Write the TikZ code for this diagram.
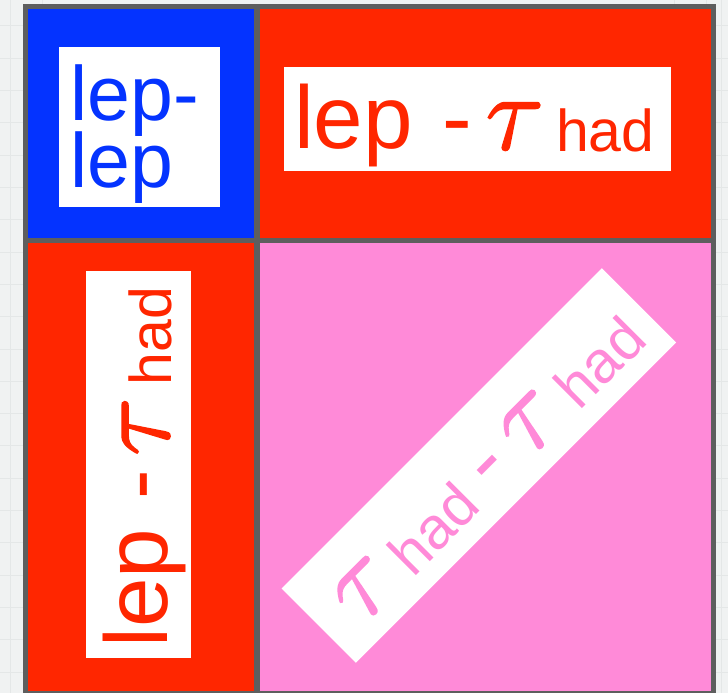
\RequirePackage{fix-cm}
\documentclass[tikz,border=0pt]{standalone}
\usepackage{fontspec}
\setmainfont{Liberation Sans}
\definecolor{bgc}{HTML}{F0F2F2}
\definecolor{gridc}{HTML}{E4E7E7}
\definecolor{framec}{HTML}{5E5E5E}
\definecolor{blueC}{HTML}{0433FF}
\definecolor{redC}{HTML}{FF2600}
\definecolor{pinkC}{HTML}{FF8AD8}
\tikzset{
  cell/.style={rectangle, draw=none, inner sep=0pt, outer sep=0pt},
  wbox/.style={rectangle, draw=none, fill=white, inner sep=0pt, outer sep=0pt, transform shape},
  txt/.style={inner sep=0pt, outer sep=0pt, anchor=base west, transform shape},
  big/.style={txt, font=\fontsize{89}{89}\selectfont},
  small/.style={txt, font=\fontsize{59}{59}\selectfont},
  tau/.style={txt, font=\fontsize{108}{108}\selectfont}
}
\newcommand{\mytau}{\special{pdf:literal direct 2 Tr 1.8 w}$\tau$\special{pdf:literal direct 0 Tr 0.4 w}}
\begin{document}
\begin{tikzpicture}[x=1pt,y=-1pt]
\useasboundingbox (0,0) rectangle (728,693);
\fill[bgc] (0,0) rectangle (728,693);
\foreach \gy in {26,58.3,90.6,122.9,155.2,187.5,219.8,252.1,284.4,316.7,349,381.3,413.6,445.9,478.2,510.5,542.8,575.1,607.4,639.7,672}
  \draw[gridc, line width=1pt] (0,\gy) -- (728,\gy);
\foreach \gx in {10,42.3,674.6,706.9,721}
  \draw[gridc, line width=1pt] (\gx,0) -- (\gx,693);
% frame
\fill[framec] (22.7,4) rectangle (715.7,698);
% cells
\node[cell, fill=blueC, minimum width=226.6pt, minimum height=229.3pt] (ll) at (141,123.65) {};
\node[cell, fill=redC, minimum width=451pt, minimum height=229.3pt] (lt) at (485.2,123.65) {};
\node[cell, fill=redC, minimum width=226.6pt, minimum height=447.4pt] (tl) at (141,467) {};
\node[cell, fill=pinkC, minimum width=451pt, minimum height=447.4pt] (tt) at (485.2,467) {};
% lep-lep
\node[wbox, minimum width=161pt, minimum height=159.7pt] (llbox) at (139.5,126.9) {};
\node[txt, text=blueC, font=\fontsize{77}{77}\selectfont] (ll1) at (70.5,120) {lep-};
\node[txt, text=blueC, font=\fontsize{77}{77}\selectfont] (ll2) at (70.5,187) {lep};
% lep - tau had (top right)
\begin{scope}[shift={(477.3,118.7)}, text=redC]
  \node[wbox, minimum width=386.7pt, minimum height=104pt] (ltbox) at (0,0) {};
  \node[big] (lt1) at (-183.2,29.6) {lep};
  \node[big] (lt2) at (-35.2,29.6) {-};
  \node[tau] (lt3) at (8.5,30.5) {\mytau};
  \node[small] (lt4) at (78.8,33) {had};
\end{scope}
% lep - tau had (bottom left, rotated)
\begin{scope}[shift={(138.3,464.2)}, rotate=90, text=redC]
  \node[wbox, minimum width=387pt, minimum height=104.7pt] (tlbox) at (0,0) {};
  \node[big] (tl1) at (-183.2,29.6) {lep};
  \node[big] (tl2) at (-35.2,29.6) {-};
  \node[tau] (tl3) at (8.5,30.5) {\mytau};
  \node[small] (tl4) at (78.8,33) {had};
\end{scope}
% tau had - tau had (pink, rotated 45)
\begin{scope}[shift={(478.9,465.5)}, rotate=45, text=pinkC]
  \node[wbox, minimum width=453pt, minimum height=105pt] (ttbox) at (0,0) {};
  \node[tau] (tt1) at (-197.2,30.5) {\mytau};
  \node[small] (tt2) at (-125.9,33.4) {had};
  \node[big] (tt3) at (-8.9,29.6) {-};
  \node[tau] (tt4) at (37.8,30.5) {\mytau};
  \node[small] (tt5) at (109.1,33.4) {had};
\end{scope}
\end{tikzpicture}
\end{document}
